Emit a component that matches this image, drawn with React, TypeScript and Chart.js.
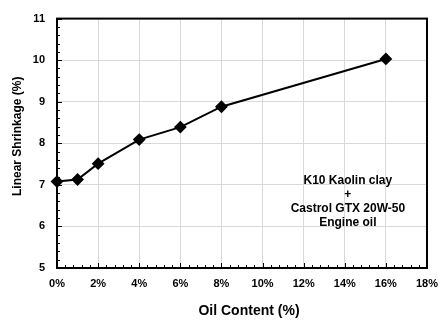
import React, { useEffect, useRef } from "react";
import { Chart, registerables } from "chart.js";

Chart.register(...registerables);

const oilContent = [0, 1, 2, 4, 6, 8, 16];
const shrinkage = [7.08, 7.13, 7.51, 8.09, 8.39, 8.88, 10.03];
const annotationLines = ["K10 Kaolin clay", "+", "Castrol GTX 20W-50", "Engine oil"];
const xTitle = "Oil Content (%)";
const yTitle = "Linear Shrinkage (%)";

const FONT = "'Liberation Sans', Arial, sans-serif";

const framePlugin = {
  id: "frame",
  beforeDatasetsDraw(chart: any) {
    const { ctx, chartArea: a, scales } = chart;
    ctx.save();
    ctx.strokeStyle = "#000";
    ctx.lineWidth = 1;
    const ys = scales.y;
    for (let v = 5; v <= 11.0001; v += 0.2) {
      const py = Math.round(ys.getPixelForValue(v)) + 0.5;
      const major = Math.abs(v - Math.round(v)) < 1e-6;
      ctx.beginPath();
      ctx.moveTo(a.left, py);
      ctx.lineTo(a.left + (major ? 5 : 3), py);
      ctx.stroke();
    }
    const xs = scales.x;
    for (let v = 0; v <= 18.0001; v += 0.4) {
      const px = Math.round(xs.getPixelForValue(v)) + 0.5;
      const major = Math.abs(v / 2 - Math.round(v / 2)) < 1e-6;
      ctx.beginPath();
      ctx.moveTo(px, a.bottom);
      ctx.lineTo(px, a.bottom - (major ? 5 : 3));
      ctx.stroke();
    }
    ctx.lineWidth = 2;
    ctx.strokeRect(a.left, a.top, a.right - a.left, a.bottom - a.top);
    ctx.restore();
  },
  afterDatasetsDraw(chart: any) {
    const { ctx, scales, chartArea: a } = chart;
    const cx = scales.x.getPixelForValue(14.15);
    const cy = scales.y.getPixelForValue(7.1);
    ctx.save();
    ctx.fillStyle = "#000";
    ctx.font = `bold 12px ${FONT}`;
    ctx.textAlign = "center";
    ctx.textBaseline = "middle";
    annotationLines.forEach((t, i) => ctx.fillText(t, cx, cy + i * 14));
    // axis titles
    ctx.font = `bold 14px ${FONT}`;
    ctx.fillText(xTitle, (a.left + a.right) / 2 + 7, a.bottom + 43);
    ctx.font = `bold 12px ${FONT}`;
    ctx.translate(18, (a.top + a.bottom) / 2 - 7);
    ctx.rotate(-Math.PI / 2);
    ctx.fillText(yTitle, 0, 0);
    ctx.restore();
  },
};

export default function App() {
  const ref = useRef<HTMLCanvasElement>(null);
  useEffect(() => {
    if (!ref.current) return;
    const chart = new Chart(ref.current, {
      type: "line",
      data: {
        datasets: [
          {
            data: oilContent.map((x, i) => ({ x, y: shrinkage[i] })),
            borderColor: "#000",
            backgroundColor: "#000",
            borderWidth: 2,
            pointStyle: "rectRot",
            pointRadius: 5,
            pointHoverRadius: 5,
            pointBackgroundColor: "#000",
            pointBorderColor: "#000",
            tension: 0,
            clip: false as any,
          },
        ],
      },
      options: {
        responsive: false,
        animation: false,
        events: [],
        layout: { padding: { left: 0, right: 12, top: 11, bottom: 0 } },
        plugins: { legend: { display: false }, tooltip: { enabled: false } },
        scales: {
          x: {
            type: "linear",
            min: 0,
            max: 18,
            afterFit: (s: any) => {
              s.height = 54;
            },
            ticks: {
              stepSize: 2,
              color: "#000",
              padding: 9,
              font: { family: FONT, size: 11, weight: "bold" },
              callback: (v: any) => v + "%",
            },
            grid: { color: "#d9d9d9", drawTicks: false },
            border: { display: false },
            title: { display: false },
          },
          y: {
            min: 5,
            max: 11,
            afterFit: (s: any) => {
              s.width = 57;
            },
            ticks: {
              stepSize: 1,
              color: "#000",
              padding: 12,
              font: { family: FONT, size: 11, weight: "bold" },
            },
            grid: { color: "#d9d9d9", drawTicks: false },
            border: { display: false },
            title: { display: false },
          },
        },
      },
      plugins: [framePlugin],
    } as any);
    return () => chart.destroy();
  }, []);
  return (
    <div style={{ position: "absolute", left: 0, top: 0, width: 447, height: 322 }}>
      <canvas ref={ref} width={447} height={322} style={{ display: "block" }} />
    </div>
  );
}
